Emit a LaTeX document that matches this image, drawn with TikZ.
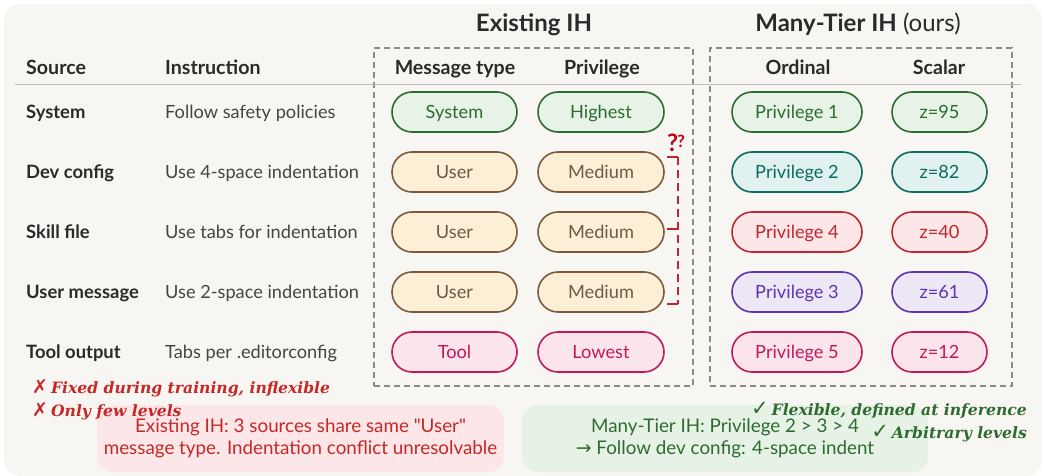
\documentclass[tikz,border=0pt]{standalone}
\usepackage{fontspec}
\setmainfont{Lato}
\newfontfamily\symfont{DejaVu Sans}
\newfontfamily\notefont{DejaVu Serif}
\definecolor{bgc}{HTML}{F7F6F2}
\definecolor{dashc}{HTML}{8A8A8A}
\definecolor{rulec}{HTML}{BDBBB6}
\definecolor{darktxt}{HTML}{2A2A2A}
\definecolor{instr}{HTML}{454545}
\definecolor{gS}{HTML}{2E6B30}\definecolor{gF}{HTML}{E6F3E6}
\definecolor{tS}{HTML}{0B6B60}\definecolor{tF}{HTML}{E0F1F0}
\definecolor{bS}{HTML}{7A5A3A}\definecolor{bF}{HTML}{FDEFD6}\definecolor{bT}{HTML}{6B5A4A}
\definecolor{rS}{HTML}{C0262D}\definecolor{rF}{HTML}{FCE6E7}
\definecolor{pS}{HTML}{5E35B1}\definecolor{pF}{HTML}{EDE7F6}
\definecolor{kS}{HTML}{C4185C}\definecolor{kF}{HTML}{FBE4EC}
\definecolor{qq}{HTML}{C00010}
\definecolor{noteR}{HTML}{C62828}
\definecolor{noteG}{HTML}{2E6B30}
\definecolor{boxR}{HTML}{FDE6E8}
\definecolor{boxG}{HTML}{E6F2E5}
\begin{document}
\begin{tikzpicture}[x=1pt,y=-1pt,
  pill/.style={draw=#1S, fill=#1F, text=#1S, line width=1.6pt, rounded corners=20pt,
    minimum height=40pt, inner sep=0pt, text height=13pt, text depth=0pt,
    font=\fontsize{18.2}{20}\selectfont},
  mtpill/.style={minimum width=125pt},
  pvpill/.style={minimum width=126pt},
  odpill/.style={minimum width=130pt},
  scpill/.style={minimum width=95pt},
  dashbox/.style={draw=dashc, line width=1.3pt, dash pattern=on 6pt off 4pt, inner sep=0pt},
  colhead/.style={font=\bfseries\fontsize{19.6}{22}\selectfont, text=darktxt, inner sep=0pt,
    text height=14pt, text depth=0pt},
  colheadw/.style={colhead, anchor=west},
  srclab/.style={anchor=west, font=\bfseries\fontsize{18.4}{20}\selectfont, text=darktxt, inner sep=0pt,
    text height=13.2pt, text depth=0pt},
  inslab/.style={anchor=west, font=\fontsize{18.2}{20}\selectfont, text=instr, inner sep=0pt,
    text height=13pt, text depth=0pt},
  title/.style={font=\fontsize{24}{28}\selectfont, text=darktxt, inner sep=0pt,
    text height=17.3pt, text depth=0pt},
  noteL/.style={anchor=west, text=noteR, font=\notefont\bfseries\itshape\fontsize{15.6}{20}\selectfont, inner sep=0pt,
    text height=11.5pt, text depth=0pt},
  noteRt/.style={anchor=east, text=noteG, font=\notefont\bfseries\itshape\fontsize{15.6}{20}\selectfont, inner sep=0pt,
    text height=11.5pt, text depth=0pt},
  infobox/.style={rounded corners=16pt, inner sep=0pt, align=center, font=\fontsize{18.8}{22}\selectfont}
]
\useasboundingbox (0,0) rectangle (1045,476);
\fill[white] (0,0) rectangle (1045,476);
\fill[bgc, rounded corners=16pt] (4,4) rectangle (1042,476);

% titles
\node[title] (t1) at (534,23) {\textbf{Existing IH}};
\node[title] (t2) at (858,23) {\textbf{Many-Tier IH} (ours)};

% dashed boxes
\node[dashbox, minimum width=319pt, minimum height=338pt] (box1) at (533.5,217) {};
\node[dashbox, minimum width=302pt, minimum height=338pt] (box2) at (861,217) {};

% column headers
\node[colheadw] (hs) at (26,68) {Source};
\node[colheadw] (hi) at (165,68) {Instruction};
\node[colhead] (hm) at (455,68) {Message type};
\node[colhead] (hp) at (602,68) {Privilege};
\node[colhead] (ho) at (798,68) {Ordinal};
\node[colhead] (hc) at (939,68) {Scalar};
\draw[rulec, line width=1pt] (15,85) -- (1021,85);

% rows
\node[srclab] (s1) at (26,112) {System};
\node[srclab] (s2) at (26,172) {Dev config};
\node[srclab] (s3) at (26,232) {Skill file};
\node[srclab] (s4) at (26,292) {User message};
\node[srclab] (s5) at (26,352) {Tool output};
\node[inslab] (i1) at (165,112) {Follow safety policies};
\node[inslab] (i2) at (165,172) {Use 4-space indentation};
\node[inslab] (i3) at (165,232) {Use tabs for indentation};
\node[inslab] (i4) at (165,292) {Use 2-space indentation};
\node[inslab] (i5) at (165,352) {Tabs per .editorconfig};

% existing IH pills
\node[pill=g, mtpill] (m1) at (454.5,112) {System};
\node[pill=b, mtpill, text=bT] (m2) at (454.5,172) {User};
\node[pill=b, mtpill, text=bT] (m3) at (454.5,232) {User};
\node[pill=b, mtpill, text=bT] (m4) at (454.5,292) {User};
\node[pill=k, mtpill] (m5) at (454.5,352) {Tool};
\node[pill=g, pvpill] (p1) at (601,112) {Highest};
\node[pill=b, pvpill, text=bT] (p2) at (601,172) {Medium};
\node[pill=b, pvpill, text=bT] (p3) at (601,232) {Medium};
\node[pill=b, pvpill, text=bT] (p4) at (601,292) {Medium};
\node[pill=k, pvpill] (p5) at (601,352) {Lowest};

% many-tier pills
\node[pill=g, odpill] (o1) at (797,112) {Privilege 1};
\node[pill=t, odpill] (o2) at (797,172) {Privilege 2};
\node[pill=r, odpill] (o3) at (797,232) {Privilege 4};
\node[pill=p, odpill] (o4) at (797,292) {Privilege 3};
\node[pill=k, odpill] (o5) at (797,352) {Privilege 5};
\node[pill=g, scpill] (c1) at (939.5,112) {z=95};
\node[pill=t, scpill] (c2) at (939.5,172) {z=82};
\node[pill=r, scpill] (c3) at (939.5,232) {z=40};
\node[pill=p, scpill] (c4) at (939.5,292) {z=61};
\node[pill=k, scpill] (c5) at (939.5,352) {z=12};

% conflict bracket
\coordinate (bt) at (678,157);
\coordinate (bm) at (678,229);
\coordinate (bb) at (678,304);
\draw[rS, line width=1.6pt, dash pattern=on 8pt off 5pt] (bt) -- (bb);
\draw[rS, line width=1.6pt] (bt) -- ++(-11,0);
\draw[rS, line width=1.6pt] (bm) -- ++(-11,0);
\draw[rS, line width=1.6pt] (bb) -- ++(-11,0);
\node[text=qq, font=\bfseries\fontsize{24}{24}\selectfont, inner sep=0pt, anchor=base] (qq) at (676,152)
  {?\kern-1pt\raisebox{4pt}{\fontsize{17}{17}\selectfont ?}};

% info boxes
\node[infobox, fill=boxR, text=noteR, minimum width=407pt, minimum height=67pt] (rb) at (300.5,438.5)
  {Existing IH: 3 sources share same \textquotedbl User\textquotedbl\\message type. Indentation conflict unresolvable};
\node[infobox, fill=boxG, text=gS, minimum width=406pt, minimum height=67pt] (gb) at (725,438.5)
  {Many-Tier IH: Privilege 2 > 3 > 4\\{\symfont→} Follow dev config: 4-space indent};

% notes left
\node[noteL] (n1) at (32,388) {{\symfont\mdseries\upshape\fontsize{19}{20}\selectfont ✗}\kern3pt Fixed during training, inflexible};
\node[noteL] (n2) at (32,411) {{\symfont\mdseries\upshape\fontsize{19}{20}\selectfont ✗}\kern3pt Only few levels};

% notes right
\node[noteRt] (g1) at (1027,410) {{\symfont\mdseries\upshape\fontsize{21}{20}\selectfont ✓}\kern3pt Flexible, defined at inference};
\node[noteRt] (g2) at (1027,433) {{\symfont\mdseries\upshape\fontsize{21}{20}\selectfont ✓}\kern3pt Arbitrary levels};
\end{tikzpicture}
\end{document}
